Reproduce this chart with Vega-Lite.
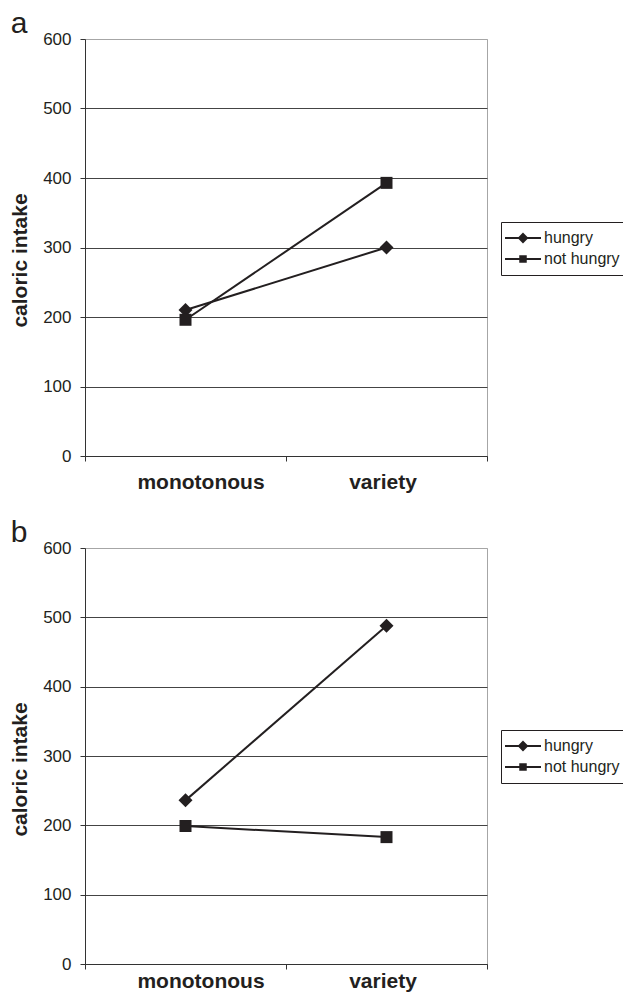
{
  "$schema": "https://vega.github.io/schema/vega-lite/v6.json",
  "padding": {"left": 9, "top": 8, "right": 0, "bottom": 0},
  "background": "white",
  "spacing": 24,
  "config": {
    "font": "Liberation Sans",
    "view": {"stroke": "#a6a6a6", "strokeWidth": 1},
    "title": {"fontSize": 30, "fontWeight": "normal", "color": "#231f20", "anchor": "start", "frame": "bounds", "baseline": "alphabetic", "offset": -9},
    "axis": {"domainColor": "#333333", "tickColor": "#333333", "labelColor": "#231f20", "titleColor": "#231f20", "labelFont": "Liberation Sans", "titleFont": "Liberation Sans"},
    "legend": {"labelFont": "Liberation Sans"}
  },
  "resolve": {"scale": {"shape": "independent"}, "legend": {"shape": "independent"}},
  "vconcat": [
    {
      "title": {"text": "a", "dx": 1},
      "width": 402,
      "height": 417,
      "data": {"values": [
        {"food": "monotonous", "series": "hungry", "intake": 210},
        {"food": "variety", "series": "hungry", "intake": 300},
        {"food": "monotonous", "series": "not hungry", "intake": 196},
        {"food": "variety", "series": "not hungry", "intake": 393}
      ]},
      "encoding": {
        "x": {"field": "food", "type": "nominal", "sort": ["monotonous", "variety"], "scale": {"paddingInner": 0, "paddingOuter": 0},
          "axis": {"title": null, "labelAngle": 0, "labelFontSize": 21, "labelFontWeight": "bold", "labelPadding": 10, "tickBand": "extent", "tickSize": 5, "domainWidth": 1, "grid": false,
            "labelOffset": {"condition": {"test": "datum.value === 'monotonous'", "value": 15}, "value": -4}}},
        "y": {"field": "intake", "type": "quantitative", "scale": {"domain": [0, 600], "nice": false},
          "axis": {"title": "caloric intake", "titleFontSize": 21, "titleFontWeight": "bold", "titlePadding": 12, "titleY": 221, "values": [0, 100, 200, 300, 400, 500, 600], "labelFontSize": 17, "labelPadding": 9, "tickSize": 5, "grid": true, "gridWidth": 1,
            "gridColor": {"condition": {"test": "datum.value === 600", "value": "#a6a6a6"}, "value": "#444444"}}}
      },
      "layer": [
        {"mark": {"type": "line", "color": "#231f20", "strokeWidth": 2}, "encoding": {"detail": {"field": "series"}}},
        {"transform": [{"filter": "datum.series === 'hungry'"}],
          "mark": {"type": "point", "filled": true, "shape": "diamond", "size": 196, "opacity": 1, "color": "#231f20"}},
        {"transform": [{"filter": "datum.series === 'not hungry'"}],
          "mark": {"type": "point", "filled": true, "shape": "square", "size": 144, "opacity": 1, "color": "#231f20"}},
        {"mark": {"type": "point", "filled": false, "size": 100, "opacity": 0, "color": "#231f20", "strokeWidth": 2},
          "encoding": {"shape": {"field": "series", "type": "nominal",
            "scale": {"domain": ["hungry", "not hungry"], "range": ["M-3.6,0H3.6M0,-0.8L0.8,0L0,0.8L-0.8,0ZM0,-0.5L0.5,0L0,0.5L-0.5,0ZM0,-0.2L0.2,0L0,0.2L-0.2,0Z", "M-3.6,0H3.6M-0.55,-0.55H0.55V0.55H-0.55ZM-0.3,-0.3H0.3V0.3H-0.3ZM-0.05,-0.05H0.05V0.05H-0.05Z"]},
            "legend": {"title": null, "orient": "none", "legendX": 416, "legendY": 183, "strokeColor": "#231f20", "padding": 8, "rowPadding": 5, "symbolSize": 100, "symbolOpacity": 1, "symbolStrokeColor": "#231f20", "symbolStrokeWidth": 2, "symbolOffset": 6, "labelOffset": 13, "labelFontSize": 16, "labelColor": "#231f20"}}}}
      ]
    },
    {
      "title": {"text": "b", "dx": 1},
      "width": 402,
      "height": 416,
      "data": {"values": [
        {"food": "monotonous", "series": "hungry", "intake": 236},
        {"food": "variety", "series": "hungry", "intake": 488},
        {"food": "monotonous", "series": "not hungry", "intake": 199},
        {"food": "variety", "series": "not hungry", "intake": 183}
      ]},
      "encoding": {
        "x": {"field": "food", "type": "nominal", "sort": ["monotonous", "variety"], "scale": {"paddingInner": 0, "paddingOuter": 0},
          "axis": {"title": null, "labelAngle": 0, "labelFontSize": 21, "labelFontWeight": "bold", "labelPadding": 1, "tickBand": "extent", "tickSize": 5, "domainWidth": 1, "grid": false,
            "labelOffset": {"condition": {"test": "datum.value === 'monotonous'", "value": 15}, "value": -4}}},
        "y": {"field": "intake", "type": "quantitative", "scale": {"domain": [0, 600], "nice": false},
          "axis": {"title": "caloric intake", "titleFontSize": 21, "titleFontWeight": "bold", "titlePadding": 12, "titleY": 221, "values": [0, 100, 200, 300, 400, 500, 600], "labelFontSize": 17, "labelPadding": 9, "tickSize": 5, "grid": true, "gridWidth": 1,
            "gridColor": {"condition": {"test": "datum.value === 600", "value": "#a6a6a6"}, "value": "#444444"}}}
      },
      "layer": [
        {"mark": {"type": "line", "color": "#231f20", "strokeWidth": 2}, "encoding": {"detail": {"field": "series"}}},
        {"transform": [{"filter": "datum.series === 'hungry'"}],
          "mark": {"type": "point", "filled": true, "shape": "diamond", "size": 196, "opacity": 1, "color": "#231f20"}},
        {"transform": [{"filter": "datum.series === 'not hungry'"}],
          "mark": {"type": "point", "filled": true, "shape": "square", "size": 144, "opacity": 1, "color": "#231f20"}},
        {"mark": {"type": "point", "filled": false, "size": 100, "opacity": 0, "color": "#231f20", "strokeWidth": 2},
          "encoding": {"shape": {"field": "series", "type": "nominal",
            "scale": {"domain": ["hungry", "not hungry"], "range": ["M-3.6,0H3.6M0,-0.8L0.8,0L0,0.8L-0.8,0ZM0,-0.5L0.5,0L0,0.5L-0.5,0ZM0,-0.2L0.2,0L0,0.2L-0.2,0Z", "M-3.6,0H3.6M-0.55,-0.55H0.55V0.55H-0.55ZM-0.3,-0.3H0.3V0.3H-0.3ZM-0.05,-0.05H0.05V0.05H-0.05Z"]},
            "legend": {"title": null, "orient": "none", "legendX": 416, "legendY": 182, "strokeColor": "#231f20", "padding": 8, "rowPadding": 5, "symbolSize": 100, "symbolOpacity": 1, "symbolStrokeColor": "#231f20", "symbolStrokeWidth": 2, "symbolOffset": 6, "labelOffset": 13, "labelFontSize": 16, "labelColor": "#231f20"}}}}
      ]
    }
  ]
}
